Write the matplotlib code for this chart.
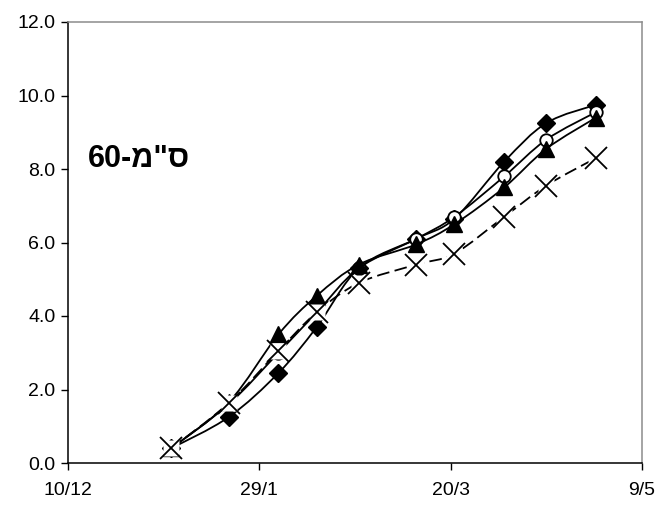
import matplotlib
matplotlib.use("Agg")
from matplotlib import pyplot as plt
import matplotlib.dates as mdates
from matplotlib.path import Path
from matplotlib.patches import PathPatch
import numpy as np
import pandas as pd

dates = pd.to_datetime(["2001-01-06", "2001-01-21", "2001-02-03", "2001-02-13",
                        "2001-02-24", "2001-03-11", "2001-03-21", "2001-04-03",
                        "2001-04-14", "2001-04-27"])
diamond = [0.4, 1.25, 2.45, 3.7, 5.3, 6.1, 6.65, 8.2, 9.25, 9.75]
circle = [0.4, 1.6, 3.0, 4.1, 5.3, 6.1, 6.7, 7.8, 8.8, 9.55]
triangle = [0.4, 1.65, 3.5, 4.55, 5.4, 5.95, 6.5, 7.5, 8.55, 9.4]
cross = [0.4, 1.63, 3.05, 4.1, 4.9, 5.4, 5.7, 6.7, 7.55, 8.3]

tick_dates = pd.to_datetime(["2000-12-10", "2001-01-29", "2001-03-20", "2001-05-09"])
tick_labels = ["10/12", "29/1", "20/3", "9/5"]
label = "60-מ\"ס"  # visual order, matplotlib has no bidi

plt.rcParams['font.family'] = ['Liberation Sans', 'DejaVu Sans']


def smooth_line(ax, x, y, **kw):
    # Excel-style smoothed line: bezier segments through the points
    pts = np.column_stack([x, y])
    n = len(pts)
    verts = [pts[0]]
    codes = [Path.MOVETO]
    for i in range(n - 1):
        p0 = pts[max(i - 1, 0)]
        p1 = pts[i]
        p2 = pts[i + 1]
        p3 = pts[min(i + 2, n - 1)]
        verts += [p1 + (p2 - p0) / 6, p2 - (p3 - p1) / 6, p2]
        codes += [Path.CURVE4] * 3
    ax.add_patch(PathPatch(Path(verts, codes), fill=False, edgecolor='black', **kw))


fig = plt.figure(figsize=(6.58, 5.09), dpi=100)
ax = fig.add_axes([68 / 658, 1 - 463 / 509, 574 / 658, 441 / 509])
xn = mdates.date2num(dates)

smooth_line(ax, xn, diamond, lw=1.3, zorder=3)
ax.plot(dates, diamond, ls='none', marker='D', ms=9.5, mfc='black', mec='black', zorder=3)
smooth_line(ax, xn, circle, lw=1.3, zorder=4)
ax.plot(dates, circle, ls='none', marker='o', ms=9, mfc='white', mec='black', mew=1.3, zorder=4)
smooth_line(ax, xn, triangle, lw=1.3, zorder=5)
ax.plot(dates, triangle, ls='none', marker='^', ms=11.5, mfc='black', mec='black', zorder=5)
smooth_line(ax, xn, cross, lw=1.3, linestyle=(0, (7, 3)), zorder=6)
ax.plot(dates, cross, ls='none', marker='s', ms=12, mfc='white', mec='none', zorder=7)
ax.plot(dates, cross, ls='none', marker='x', ms=16, mec='black', mew=1.3, zorder=8)

ax.set_xlim(tick_dates[0], tick_dates[-1])
ax.set_ylim(0, 12)
ax.set_xticks(tick_dates)
ax.set_xticklabels(tick_labels)
ax.set_yticks([0, 2, 4, 6, 8, 10, 12])
ax.yaxis.set_major_formatter(plt.FormatStrFormatter('%.1f'))
ax.tick_params(axis='both', direction='out', length=5, width=1, labelsize=14, color='black')
ax.tick_params(axis='x', pad=9)
ax.tick_params(axis='y', pad=4)

for side in ['left', 'bottom']:
    ax.spines[side].set_color('black')
    ax.spines[side].set_linewidth(1.1)
for side in ['top', 'right']:
    ax.spines[side].set_color('#8c8c8c')
    ax.spines[side].set_linewidth(1.1)

ax.text(0.035, 0.69, label, transform=ax.transAxes, fontsize=22, fontweight='bold',
        ha='left', va='center')

fig.savefig("out.png", dpi=100)
